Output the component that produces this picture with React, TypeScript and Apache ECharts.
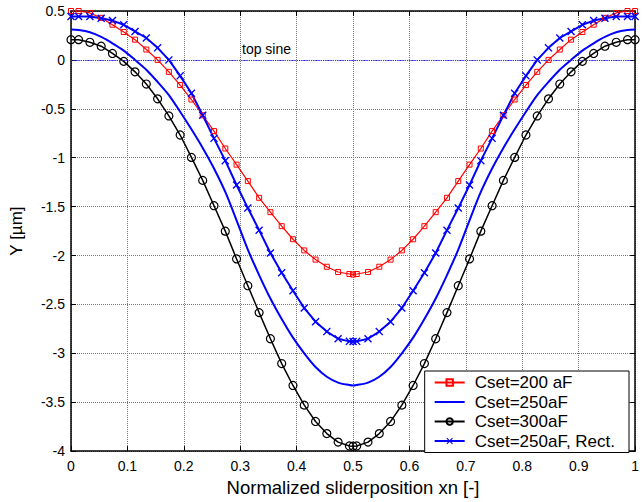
import React, { useEffect, useRef } from "react";
import * as echarts from "echarts";

// Normalized slider position samples
const xn = [
  0, 0.0135, 0.0335, 0.0535, 0.0735, 0.0935, 0.1135, 0.1335, 0.1535, 0.1735, 0.1935, 0.2135, 0.2335,
  0.2535, 0.2735, 0.2935, 0.3135, 0.3335, 0.3535, 0.3735, 0.3935, 0.4135, 0.4335, 0.4535, 0.4735, 0.4935,
  0.5,
  0.5065, 0.5265, 0.5465, 0.5665, 0.5865, 0.6065, 0.6265, 0.6465, 0.6665, 0.6865, 0.7065, 0.7265, 0.7465,
  0.7665, 0.7865, 0.8065, 0.8265, 0.8465, 0.8665, 0.8865, 0.9065, 0.9265, 0.9465, 0.9665, 0.9865, 1,
];

const cset200 = [
  0.5, 0.5, 0.48, 0.43, 0.36, 0.285, 0.207, 0.106, 0.0, -0.122, -0.257, -0.405, -0.566,
  -0.728, -0.906, -1.071, -1.239, -1.41, -1.557, -1.7, -1.834, -1.948, -2.042, -2.115, -2.169, -2.189,
  -2.195,
  -2.189, -2.169, -2.115, -2.042, -1.948, -1.834, -1.7, -1.557, -1.41, -1.239, -1.071, -0.906, -0.728,
  -0.566, -0.405, -0.257, -0.122, 0.0, 0.106, 0.207, 0.285, 0.36, 0.43, 0.48, 0.5, 0.5,
];

const cset250 = [
  0.31, 0.305, 0.282, 0.235, 0.17, 0.095, 0.0, -0.1, -0.225, -0.36, -0.53, -0.71, -0.9,
  -1.11, -1.35, -1.64, -1.94, -2.2, -2.44, -2.65, -2.84, -3.0, -3.14, -3.24, -3.3, -3.325,
  -3.33,
  -3.325, -3.3, -3.24, -3.14, -3.0, -2.84, -2.65, -2.44, -2.2, -1.94, -1.64, -1.35, -1.11,
  -0.9, -0.71, -0.53, -0.36, -0.225, -0.1, 0.0, 0.095, 0.17, 0.235, 0.282, 0.305, 0.31,
];

const cset300 = [
  0.207, 0.207, 0.18, 0.14, 0.066, -0.015, -0.122, -0.247, -0.398, -0.573, -0.768, -0.997, -1.232,
  -1.491, -1.751, -2.035, -2.309, -2.584, -2.851, -3.105, -3.329, -3.53, -3.697, -3.821, -3.908, -3.948,
  -3.95,
  -3.948, -3.908, -3.821, -3.697, -3.53, -3.329, -3.105, -2.851, -2.584, -2.309, -2.035, -1.751, -1.491,
  -1.232, -0.997, -0.768, -0.573, -0.398, -0.247, -0.122, -0.015, 0.066, 0.14, 0.18, 0.207, 0.207,
];

const cset250Rect = [
  0.443, 0.443, 0.443, 0.426, 0.402, 0.359, 0.291, 0.224, 0.123, 0.0, -0.163, -0.341, -0.566,
  -0.802, -1.03, -1.279, -1.515, -1.741, -1.975, -2.176, -2.36, -2.537, -2.677, -2.778, -2.851, -2.878,
  -2.88,
  -2.878, -2.851, -2.778, -2.677, -2.537, -2.36, -2.176, -1.975, -1.741, -1.515, -1.279, -1.03, -0.802,
  -0.566, -0.341, -0.163, 0.0, 0.123, 0.224, 0.291, 0.359, 0.402, 0.426, 0.443, 0.443, 0.443,
];

const seriesNames = ["Cset=200 aF", "Cset=250aF", "Cset=300aF", "Cset=250aF, Rect."];
const topSineLevel = 0;

const FONT = "Liberation Sans, Arial, Helvetica, sans-serif";
const CROSS =
  "path://M0,1.2 L1.2,0 L5,3.8 L8.8,0 L10,1.2 L6.2,5 L10,8.8 L8.8,10 L5,6.2 L1.2,10 L0,8.8 L3.8,5 Z";

function pairs(ys: number[]) {
  return xn.map((x, i) => [x, ys[i]]);
}

export default function App() {
  const ref = useRef<HTMLDivElement>(null);

  useEffect(() => {
    if (!ref.current) return;
    const chart = echarts.init(ref.current, undefined, { renderer: "svg" });
    const fmt = (v: number) => String(Math.round(v * 10) / 10);
    const frameLine = { show: true, onZero: false, lineStyle: { color: "#000", width: 1.5 } };
    const tick = { show: true, inside: true, length: 5, lineStyle: { color: "#000", width: 1 } };
    const grid = { show: true, lineStyle: { type: "dotted", color: "#777", width: 1 } };

    chart.setOption({
      animation: false,
      backgroundColor: "#fff",
      textStyle: { fontFamily: FONT },
      grid: { left: 69, right: 6, top: 11, bottom: 45 },
      xAxis: [
        {
          type: "value",
          min: 0,
          max: 1,
          interval: 0.1,
          name: "Normalized sliderposition xn [-]",
          nameLocation: "middle",
          nameGap: 24,
          nameTextStyle: { fontSize: 18.5, color: "#000", fontFamily: FONT },
          axisLine: frameLine,
          axisTick: tick,
          axisLabel: { fontSize: 14, color: "#000", margin: 8, formatter: fmt, fontFamily: FONT },
          splitLine: grid,
        },
        {
          type: "value",
          position: "top",
          min: 0,
          max: 1,
          interval: 0.1,
          axisLine: frameLine,
          axisTick: tick,
          axisLabel: { show: false },
          splitLine: { show: false },
        },
      ],
      yAxis: [
        {
          type: "value",
          min: -4,
          max: 0.5,
          interval: 0.5,
          name: "Y [µm]",
          nameLocation: "middle",
          nameRotate: 90,
          nameGap: 46,
          nameTextStyle: { fontSize: 17, color: "#000", fontFamily: FONT },
          axisLine: frameLine,
          axisTick: tick,
          axisLabel: { fontSize: 14, color: "#000", margin: 6, formatter: fmt, fontFamily: FONT },
          splitLine: grid,
        },
        {
          type: "value",
          position: "right",
          min: -4,
          max: 0.5,
          interval: 0.5,
          axisLine: frameLine,
          axisTick: tick,
          axisLabel: { show: false },
          splitLine: { show: false },
        },
      ],
      legend: {
        data: [
          { name: seriesNames[0] },
          { name: seriesNames[1], itemStyle: { opacity: 0 } },
          { name: seriesNames[2] },
          { name: seriesNames[3] },
        ],
        orient: "vertical",
        right: 13,
        top: 371,
        itemWidth: 30,
        itemHeight: 8,
        itemGap: 2.5,
        padding: [3, 14, 3, 9],
        backgroundColor: "#fff",
        borderColor: "#000",
        borderWidth: 1,
        borderRadius: 0,
        textStyle: { fontSize: 17, color: "#000", fontFamily: FONT, padding: [0, 0, 0, 5] },
      },
      graphic: [
        {
          type: "text",
          left: 242,
          top: 42,
          style: { text: "top sine", fontSize: 14, fill: "#000", fontFamily: FONT },
        },
      ],
      series: [
        {
          name: seriesNames[0],
          type: "line",
          data: pairs(cset200),
          symbol: "rect",
          symbolSize: 5,
          lineStyle: { color: "#ff0000", width: 1.2 },
          itemStyle: { color: "rgba(255,255,255,0)", borderColor: "#ff0000", borderWidth: 1 },
          z: 3,
        },
        {
          name: seriesNames[1],
          type: "line",
          data: pairs(cset250),
          symbol: "none",
          showSymbol: false,
          smooth: 0.3,
          lineStyle: { color: "#0000ff", width: 2 },
          itemStyle: { color: "#0000ff" },
          markLine: {
            silent: true,
            symbol: ["none", "none"],
            label: { show: false },
            lineStyle: { color: "#3030d0", type: "dotted", width: 1.2 },
            data: [{ yAxis: topSineLevel }],
          },
          z: 3,
        },
        {
          name: seriesNames[2],
          type: "line",
          data: pairs(cset300),
          symbol: "circle",
          symbolSize: 8,
          lineStyle: { color: "#000", width: 1.5 },
          itemStyle: { color: "rgba(255,255,255,0)", borderColor: "#000", borderWidth: 1.2 },
          z: 3,
        },
        {
          name: seriesNames[3],
          type: "line",
          data: pairs(cset250Rect),
          symbol: CROSS,
          symbolSize: 8,
          lineStyle: { color: "#0000ff", width: 2 },
          itemStyle: { color: "#0000ff" },
          z: 3,
        },
      ],
    });
    return () => chart.dispose();
  }, []);

  return (
    <div
      ref={ref}
      style={{ position: "fixed", left: 0, top: 0, width: 642, height: 502, background: "#fff" }}
    />
  );
}
